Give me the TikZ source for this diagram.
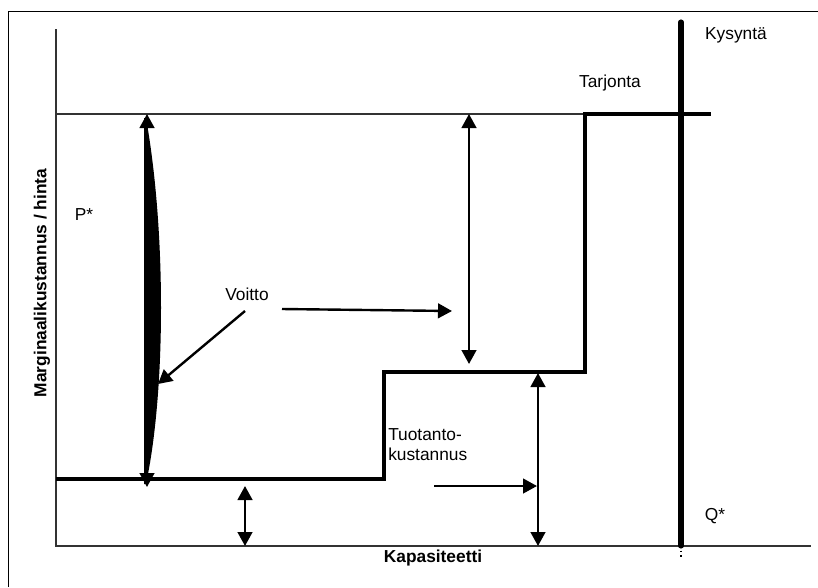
\documentclass[tikz,border=0pt]{standalone}
\usepackage{fontspec}
\setmainfont{Liberation Sans}
\usetikzlibrary{arrows.meta}
\begin{document}
\begin{tikzpicture}[x=0.75pt,y=-0.75pt,
  frameline/.style={line width=0.9pt, black},
  axisline/.style={line width=0.8pt, black!80},
  supply/.style={line width=3pt, black, line join=miter},
  demand/.style={line width=3.8pt, black, line cap=round},
  tipA/.tip={Triangle[width=11pt,length=10.5pt]},
  arr/.style={line width=1.8pt, black, -tipA},
  darr/.style={line width=1.8pt, black, tipA-tipA},
  lbl/.style={font=\fontsize{13}{15.5}\selectfont, inner sep=0pt},
  blbl/.style={font=\fontsize{13}{15.5}\selectfont\bfseries, inner sep=0pt}]
\useasboundingbox (0,0) rectangle (818,587);
% frame
\draw[frameline] (8.5,587) -- (8.5,11.5) -- (818,11.5);
% axes
\coordinate (yt) at (56,29);
\coordinate (o) at (56,546);
\coordinate (xe) at (811,546);
\draw[axisline] (yt) -- (o) -- (xe);
% price line
\coordinate (pl) at (56,114);
\coordinate (pr) at (585,114);
\draw[axisline] (pl) -- (pr);
% supply curve
\coordinate (s0) at (56,479);
\coordinate (s1) at (384,479);
\coordinate (s2) at (384,371.5);
\coordinate (s3) at (585,371.5);
\coordinate (s4) at (585,114);
\coordinate (s5) at (711,114);
\draw[supply] (s0) -- (s1) -- (s2) -- (s3) -- (s4) -- (s5);
% demand
\coordinate (d0) at (681,22);
\coordinate (d1) at (681,546);
\coordinate (d2) at (681,558);
\draw[demand] (d0) -- (d1);
\draw[line width=1.4pt, dotted] (d1) -- (d2);
% profit lens
\coordinate (lt) at (146,118);
\coordinate (lb) at (146,484);
\fill (lt) .. controls (166,230) and (166,390) .. (lb) -- (144,484) -- (144,118) -- cycle;
% double arrows
\coordinate (a1t) at (147,114);
\coordinate (a1b) at (147,487);
\draw[darr] (a1t) -- (a1b);
\coordinate (a2t) at (469,114);
\coordinate (a2b) at (469,364);
\draw[darr] (a2t) -- (a2b);
\coordinate (a3t) at (538,373);
\coordinate (a3b) at (538,546);
\draw[darr] (a3t) -- (a3b);
\coordinate (a4t) at (245,486);
\coordinate (a4b) at (245,546);
\draw[darr] (a4t) -- (a4b);
% labels
\node[lbl] (voitto) at (247,294) {Voitto};
\node[lbl] (kysynta) at (736,35) {Kysyntä};
\node[lbl] (tarjonta) at (610,83) {Tarjonta};
\node[lbl] (pstar) at (84,215) {P*};
\node[lbl] (qstar) at (715,516) {Q*};
\node[lbl, align=left, anchor=north west] (tuot) at (388,428) {Tuotanto-\\kustannus};
\node[blbl] (kap) at (433,558) {Kapasiteetti};
\node[blbl, rotate=90] (marg) at (42,283) {Marginaalikustannus / hinta};
% single arrows
\coordinate (v1s) at (282,309);
\coordinate (v1e) at (452,311);
\draw[arr] (v1s) -- (v1e);
\coordinate (v2s) at (245,311);
\coordinate (v2e) at (158,384);
\draw[arr] (v2s) -- (v2e);
\coordinate (t1s) at (434,486);
\coordinate (t1e) at (537,486);
\draw[arr] (t1s) -- (t1e);
\end{tikzpicture}
\end{document}
